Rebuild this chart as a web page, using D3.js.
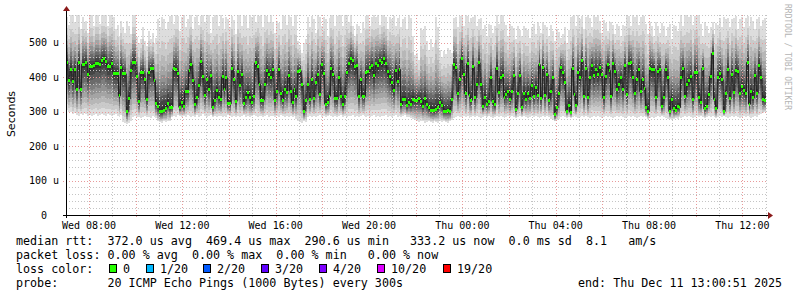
<!DOCTYPE html>
<html>
<head>
<meta charset="utf-8">
<script src="https://cdn.jsdelivr.net/npm/d3@7"></script>
<style>
  body { margin: 0; background: #ffffff; }
  svg text { font-family: "DejaVu Sans Mono", monospace; white-space: pre; }
</style>
</head>
<body>
<div id="vis"></div>
<script>
// frame + plot box
const FRAME_WIDTH = 797
const FRAME_HEIGHT = 297
const PLOT = {left: 66, right: 766, top: 15, bottom: 215}

// time range of the graph (30 hours, 5 minute steps)
const START = new Date(2025, 11, 10, 7, 0, 51)
const END = new Date(2025, 11, 11, 13, 0, 51)
const STEP_MS = 300 * 1000

// median rtt per step (micro seconds)
const medianRtt = [
  443,390,424,388,424,366,444,366,438,438,443,407,431,431,435,440,440,438,450,455,
  446,431,431,440,412,412,410,346,428,410,410,300,337,420,444,444,402,329,414,414,
  393,336,414,425,425,391,325,315,300,300,305,310,325,313,313,425,423,410,313,326,
  314,360,360,420,437,390,321,340,375,445,401,346,393,364,404,311,334,361,340,336,
  401,365,398,323,323,425,393,330,418,375,408,323,340,355,340,326,343,442,432,380,
  334,334,380,420,408,398,423,334,360,423,352,334,365,357,404,360,326,365,343,418,
  419,378,302,332,380,335,395,337,384,407,350,436,410,322,328,345,425,407,337,337,
  398,345,321,345,413,439,454,449,430,433,345,394,345,345,413,416,428,433,404,439,
  433,449,442,454,439,416,401,384,362,421,389,423,321,335,335,318,327,322,336,332,
  332,337,330,316,337,321,311,305,305,303,307,311,328,319,301,301,303,301,336,437,
  428,352,394,454,408,352,439,348,333,430,340,379,442,378,314,340,321,330,398,330,
  321,427,356,398,406,342,350,358,336,360,404,307,354,406,311,354,336,354,339,375,
  345,371,348,437,339,428,348,408,333,358,398,291,311,352,428,413,384,302,319,299,
  426,349,319,415,398,448,345,426,340,398,433,404,423,408,428,408,340,401,437,420,
  345,439,418,365,380,398,365,433,349,439,442,400,354,394,423,358,394,368,311,301,
  427,424,424,340,418,424,315,340,424,398,301,336,308,304,315,312,398,427,345,378,
  390,403,336,414,414,342,326,427,308,315,349,403,469,336,308,398,411,393,301,352,
  424,337,408,356,420,417,353,372,362,352,443,322,358,340,405,354,434,398,336,333
]

// slowest ping of each step (top of the smoke)
const pingMax = [
  575,552,581,581,560,581,581,540,576,560,565,530,581,581,548,581,581,556,581,581,
  581,548,581,581,575,540,552,520,563,545,530,565,550,525,581,581,518,500,510,545,
  505,490,535,512,528,500,515,570,545,575,568,540,560,578,581,556,581,578,535,576,
  581,545,570,578,581,540,575,581,552,578,581,560,578,581,530,575,581,581,548,581,
  573,540,575,570,545,578,566,525,581,581,550,581,578,542,581,576,581,560,581,578,
  581,545,581,578,560,581,560,530,565,558,540,581,578,552,581,576,548,581,581,505,
  495,470,500,512,575,545,578,570,530,581,576,548,575,570,520,572,581,581,550,578,
  581,581,548,581,581,560,581,550,520,556,548,530,560,543,578,581,550,576,581,575,
  581,552,581,581,576,540,575,570,578,548,572,581,545,570,575,540,581,572,520,466,
  470,450,544,538,548,505,480,512,488,500,576,545,480,460,475,468,485,478,472,573,
  576,545,578,581,550,581,578,560,573,576,581,548,570,573,540,553,520,556,552,530,
  550,581,555,581,581,560,553,520,556,550,544,510,548,538,520,550,544,536,515,545,
  555,525,562,548,530,560,552,545,520,553,535,505,540,532,515,525,545,500,538,575,
  578,581,550,581,570,578,540,575,581,572,545,581,575,581,563,530,566,558,535,565,
  560,553,525,556,550,520,553,548,581,578,550,581,575,581,552,576,581,578,555,525,
  560,548,520,562,550,530,558,548,520,545,556,510,552,548,535,560,581,550,581,581,
  575,581,552,578,581,581,555,520,560,548,530,545,562,525,558,553,573,545,575,568,
  573,545,570,573,578,540,570,575,545,573,578,550,575,565,540,568,575,550,566,572
]

// fastest ping of each step (bottom of the smoke)
const pingMin = [
  305,300,298,292,295,290,288,292,290,295,292,288,290,287,290,292,288,290,293,290,
  288,292,290,287,290,293,288,285,290,270,268,265,268,272,285,288,284,286,282,285,
  288,284,286,283,287,285,282,272,270,268,272,270,274,272,285,288,286,290,287,285,
  288,285,290,287,284,288,285,290,286,288,292,289,285,288,290,286,288,285,289,287,
  285,288,286,290,287,285,288,286,289,285,287,290,286,288,285,287,290,288,286,289,
  287,285,288,290,286,289,287,285,288,286,290,287,285,288,286,289,285,288,280,272,
  270,268,272,270,285,288,286,289,285,287,290,286,288,285,287,290,288,286,289,285,
  287,290,286,288,285,289,287,290,286,288,285,287,290,288,286,289,285,288,290,286,
  288,285,289,287,290,286,288,285,287,290,286,288,285,287,290,286,284,282,278,275,
  272,270,274,272,268,270,272,270,268,272,270,268,272,270,274,270,268,272,276,282,
  285,288,286,284,288,285,287,283,286,288,284,287,285,283,286,288,284,287,285,283,
  286,288,284,287,285,283,286,288,284,287,285,283,286,288,284,287,285,283,286,288,
  284,287,285,283,286,288,284,287,285,278,275,272,276,280,284,287,285,283,286,282,
  284,287,285,283,286,288,284,287,285,283,286,288,284,287,285,283,286,288,284,287,
  285,283,286,288,284,287,285,283,286,288,284,287,285,283,286,288,284,287,285,280,
  282,285,283,286,288,284,287,285,283,280,278,276,279,282,280,285,283,286,288,284,
  287,285,283,286,288,284,287,285,283,286,288,284,287,285,283,286,288,284,287,285,
  283,286,288,284,287,285,283,286,288,284,287,285,283,286,288,284,290,292,295,298
]

// axis
const Y_MAX = 581
const yTicks = [0, 100, 200, 300, 400, 500]

// legend
const lossLabels = ["0", "1/20", "2/20", "3/20", "4/20", "10/20", "19/20"]
const lossColors = ["#26ff00", "#00b8ff", "#0059ff", "#5e00ff", "#7e00ff", "#dd00ff", "#ff0000"]
const lossBoxX = [109, 146, 203, 261, 319, 377, 443]
const statsRtt = "median rtt:  372.0 us avg  469.4 us max  290.6 us min   333.2 us now  0.0 ms sd  8.1   am/s"
const statsLoss = "packet loss: 0.00 % avg  0.00 % max  0.00 % min   0.00 % now"
const probeText = "probe:       20 ICMP Echo Pings (1000 Bytes) every 300s"
const endText = "end: Thu Dec 11 13:00:51 2025"

// how far each smoke band sits from the median (outer band first)
const SMOKE_UP = [1, .75, .6, .48, .39, .31, .24, .17, .11, .05]
const SMOKE_DN = [1, .88, .77, .67, .57, .47, .37, .27, .17, .08]


const FRAME = d3.select('#vis')
                .append('svg')
                .attr('width', FRAME_WIDTH)
                .attr('height', FRAME_HEIGHT)

const x = d3.scaleTime()
            .domain([START, END])
            .range([PLOT.left, PLOT.right])

const y = d3.scaleLinear()
            .domain([0, Y_MAX])
            .range([PLOT.bottom, PLOT.top])

// one row per step, plus a closing row so the last step gets its width
const steps = medianRtt.map((m, i) => ({
  t: new Date(START.getTime() + i * STEP_MS),
  med: m, lo: pingMin[i], hi: pingMax[i]
}))
const stepsClosed = steps.concat([Object.assign({}, steps[steps.length - 1], {t: END})])


// smoke: 10 bands, light outside, dark inside
SMOKE_UP.forEach((up, k) => {
  const grey = Math.round(190 / 10 * (10 - (k + 1))) + 50
  const area = d3.area()
                 .curve(d3.curveStepAfter)
                 .x(d => x(d.t))
                 .y0(d => y(d.med - (d.med - d.lo) * SMOKE_DN[k]))
                 .y1(d => y(d.med + (d.hi - d.med) * up))
  FRAME.append('path')
       .datum(stepsClosed)
       .attr('d', area)
       .attr('fill', d3.rgb(grey, grey, grey))
       .attr('shape-rendering', 'crispEdges')
})


// grid lines (drawn over the smoke like rrdtool does)
const grid = FRAME.append('g').attr('shape-rendering', 'crispEdges')

d3.range(20, Y_MAX, 20).forEach(v => {
  const major = v % 100 === 0
  grid.append('line')
      .attr('x1', major ? PLOT.left - 3 : PLOT.left).attr('x2', PLOT.right)
      .attr('y1', Math.round(y(v)) + 0.5).attr('y2', Math.round(y(v)) + 0.5)
      .attr('stroke', major ? '#e89a9a' : '#c4c4c4')
      .attr('stroke-dasharray', '1,2')
})

d3.timeHour.range(START, END).forEach(h => {
  const major = h.getHours() % 2 === 0
  grid.append('line')
      .attr('x1', Math.round(x(h)) + 0.5).attr('x2', Math.round(x(h)) + 0.5)
      .attr('y1', PLOT.top).attr('y2', PLOT.bottom + 3)
      .attr('stroke', major ? '#e89a9a' : '#c4c4c4')
      .attr('stroke-dasharray', '1,2')
})


// median: dark step line plus a green mark per step (0 loss)
FRAME.append('path')
     .datum(stepsClosed)
     .attr('d', d3.line().curve(d3.curveStepAfter).x(d => x(d.t)).y(d => y(d.med)))
     .attr('fill', 'none')
     .attr('stroke', '#202020')
     .attr('stroke-width', 1)

FRAME.selectAll('.med')
     .data(steps)
     .enter()
     .append('rect')
       .attr('class', 'med')
       .attr('x', d => x(d.t))
       .attr('width', d => x(new Date(d.t.getTime() + STEP_MS)) - x(d.t))
       .attr('y', d => y(d.med) - 1.5)
       .attr('height', 3)
       .attr('fill', lossColors[0])
       .attr('shape-rendering', 'crispEdges')


// axes
FRAME.append('line')
     .attr('x1', PLOT.left - 3).attr('x2', PLOT.right + 2)
     .attr('y1', PLOT.bottom + 0.5).attr('y2', PLOT.bottom + 0.5)
     .attr('stroke', '#000')

FRAME.append('line')
     .attr('x1', PLOT.left + 0.5).attr('x2', PLOT.left + 0.5)
     .attr('y1', PLOT.bottom + 3).attr('y2', PLOT.top - 4)
     .attr('stroke', '#000')

// arrows
FRAME.append('path')
     .attr('d', `M${PLOT.left - 3},${PLOT.top - 4}L${PLOT.left + 4},${PLOT.top - 4}L${PLOT.left + 0.5},${PLOT.top - 9}Z`)
     .attr('fill', '#8b1a1a')
FRAME.append('path')
     .attr('d', `M${PLOT.right + 2},${PLOT.bottom - 3}L${PLOT.right + 2},${PLOT.bottom + 4}L${PLOT.right + 7},${PLOT.bottom + 0.5}Z`)
     .attr('fill', '#8b1a1a')

// y tick labels
FRAME.selectAll('.ylab')
     .data(yTicks)
     .enter()
     .append('text')
       .attr('class', 'ylab')
       .attr('x', d => d === 0 ? 47 : 59)
       .attr('y', d => y(d) + 3.5)
       .attr('text-anchor', 'end')
       .attr('font-size', '10px')
       .text(d => d === 0 ? '0' : d + ' u')

// x tick labels every 4 hours
FRAME.selectAll('.xlab')
     .data(x.ticks(d3.timeHour.every(4)))
     .enter()
     .append('text')
       .attr('class', 'xlab')
       .attr('x', d => x(d))
       .attr('y', 228.5)
       .attr('text-anchor', 'middle')
       .attr('font-size', '10px')
       .text(d => d3.timeFormat('%a %H:%M')(d))

// axis title
FRAME.append('text')
     .attr('transform', 'translate(15,114) rotate(-90)')
     .attr('text-anchor', 'middle')
     .attr('font-size', '11px')
     .style('font-family', '"DejaVu Sans", sans-serif')
     .text('Seconds')

// watermark
FRAME.append('text')
     .attr('transform', 'translate(785,4) rotate(90)')
     .attr('font-size', '8px')
     .attr('fill', '#b4b4b4')
     .text('RRDTOOL / TOBI OETIKER')


// legend block
const LEG_FONT = '11.7px'
FRAME.append('text').attr('x', 16).attr('y', 245).attr('font-size', LEG_FONT).text(statsRtt)
FRAME.append('text').attr('x', 16).attr('y', 259).attr('font-size', LEG_FONT).text(statsLoss)
FRAME.append('text').attr('x', 16).attr('y', 273).attr('font-size', LEG_FONT).text('loss color:')
FRAME.append('text').attr('x', 16).attr('y', 287).attr('font-size', LEG_FONT).text(probeText)
FRAME.append('text').attr('x', 578).attr('y', 287).attr('font-size', LEG_FONT).text(endText)

lossLabels.forEach((lab, i) => {
  FRAME.append('rect')
       .attr('x', lossBoxX[i] + 0.5).attr('y', 264.5)
       .attr('width', 7).attr('height', 8)
       .attr('fill', lossColors[i])
       .attr('stroke', '#000')
       .attr('shape-rendering', 'crispEdges')
  FRAME.append('text')
       .attr('x', lossBoxX[i] + 14)
       .attr('y', 273)
       .attr('font-size', LEG_FONT)
       .text(lab)
})
</script>
</body>
</html>
